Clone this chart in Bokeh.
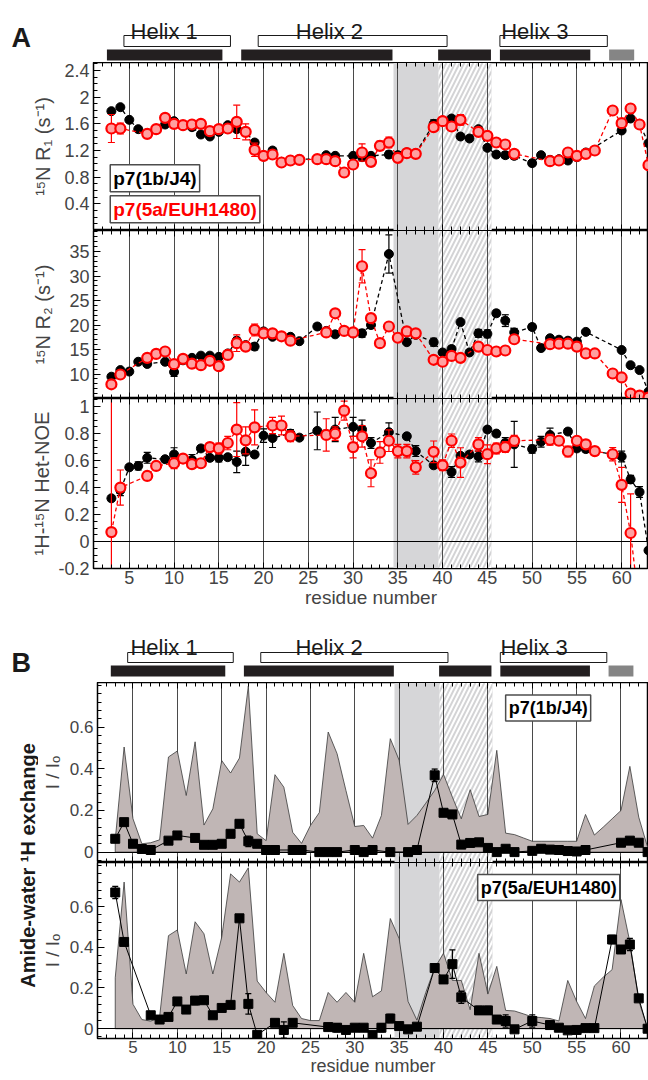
from bokeh.plotting import figure
from bokeh.layouts import column, row
from bokeh.models import Range1d, LinearAxis, FixedTicker, Label
from bokeh.embed import file_html
from bokeh.resources import INLINE
from bokeh.core.properties import value
import math

FONT = "Liberation Sans"

# ---------------- data ----------------
panel_letters = ["A", "B"]
helix_names = ["Helix 1", "Helix 2", "Helix 3"]
helix_label_x_A = [8.9, 27.35, 50.3]
helix_label_x_B = [8.5, 27.1, 50.2]
open_bar_start = [4.4, 19.4, 46.4]
open_bar_end = [16.3, 40.5, 58.4]
solid_bar_start = [2.5, 17.5, 39.5, 46.4]
solid_bar_end = [15.4, 34.4, 45.4, 56.5]
grey_bar_start = [58.6]
grey_bar_end = [61.4]

shade_start = [34.5]
shade_end = [39.5]
hatch_start = [39.5]
hatch_end = [45.5]

grid_res = [5, 10, 15, 20, 25, 30, 35, 40, 45, 50, 55, 60]
x_tick_labels = ["5", "10", "15", "20", "25", "30", "35", "40", "45", "50", "55", "60"]

# R1 (s-1)
r1_b_res = [3,4,5,6,7,9,10,11,12,13,14,15,16,17,18,19,20,21,22,23,24,26,27,28,30,31,32,34,35,36,37,
            39,40,41,42,43,44,45,46,47,48,50,51,52,53,54,55,56,60,61,62,63]
r1_b_val = [1.79,1.85,1.66,1.52,1.46, 1.59,1.64,1.57,1.55,1.44,1.41,1.48,1.58,1.52,1.48,1.32,1.11,1.20,1.03,1.05,1.07,
            1.07,1.13,1.12, 1.12,1.10,1.12, 1.14,1.13,1.17,1.16, 1.60,1.65,1.68,1.41,1.38,1.52,1.24,1.14,1.13,1.12,
            1.01,1.13,1.06,1.07,1.05,1.10,1.17, 1.50,1.68,1.60,1.31]
r1_b_err = [0.02,0.02,0.02,0.02,0.02, 0.02,0.04,0.02,0.02,0.02,0.02,0.02,0.02,0.02,0.02,0.04,0.04,0.03,0.02,0.02,0.02,
            0.02,0.02,0.02, 0.02,0.05,0.02, 0.05,0.02,0.02,0.02, 0.06,0.02,0.04,0.02,0.02,0.04,0.04,0.04,0.05,0.05,
            0.04,0.02,0.02,0.02,0.02,0.02,0.03, 0.02,0.02,0.02,0.02]
r1_r_res = [3,4,7,8,9,10,11,12,13,14,15,16,17,18,19,20,21,22,23,24,26,27,28,29,30,31,32,33,34,35,36,37,
            39,40,41,42,44,45,46,47,48,52,53,54,55,56,57,59,60,61,62,63]
r1_r_val = [1.53,1.53, 1.45,1.52,1.69,1.60,1.58,1.59,1.60,1.49,1.52,1.53,1.63,1.48,1.21,1.12,1.14,1.02,1.05,1.06,
            1.07,1.07,1.04,0.87,0.99,1.17,1.03,1.27,1.32,1.09,1.16,1.15, 1.55,1.64,1.56,1.66,
            1.48,1.42,1.32,1.29,1.15, 1.04,1.05,1.17,1.12,1.15,1.20, 1.80,1.61,1.83,1.59,0.98]
r1_r_err = [0.21,0.08, 0.03,0.03,0.03,0.03,0.03,0.03,0.03,0.03,0.03,0.03,0.25,0.12,0.10,0.03,0.03,0.05,0.04,0.03,
            0.03,0.03,0.05,0.05,0.06,0.13,0.06,0.07,0.08,0.05,0.03,0.03, 0.03,0.03,0.06,0.08,
            0.03,0.06,0.04,0.05,0.05, 0.03,0.03,0.03,0.03,0.03,0.03, 0.04,0.03,0.04,0.03,0.03]

# R2 (s-1)
r2_b_res = [3,4,5,6,7,9,10,11,12,13,14,15,16,17,18,19,20,21,22,23,24,26,27,28,30,31,32,34,36,37,
            39,40,41,42,43,44,45,46,47,48,50,51,52,53,54,55,56,60,61,62,63]
r2_b_val = [9.45,10.8,10.5,12.5,12.05, 12.5,10.4,12.8,13.3,13.75,13.75,13.5,14.2,16.8,15.9,15.6,18.7,17.6,17.7,17.6,16.7,
            19.7,18.8,18.1, 18.3,18.3,20.0, 34.5, 16.5,18.0, 16.5,14.4,15.1,20.6,14.4,18.3,18.2,22.4,20.9,18.5,
            19.6,15.3,17.3,17.0,16.8,16.6,18.6, 14.9,11.8,10.8,6.4]
r2_b_err = [0.35,0.35,0.35,0.35,0.35, 0.35,0.9,0.35,0.35,0.35,0.35,0.35,0.35,0.7,0.35,0.7,0.6,0.35,0.35,0.35,0.35,
            0.6,0.35,0.35, 0.6,0.8,0.7, 3.9, 0.35,0.35, 0.8,0.35,0.6,0.35,0.35,0.8,0.8,0.6,1.2,0.8,
            0.6,0.35,0.35,0.35,0.35,0.35,0.35, 0.35,0.35,0.35,0.35]
r2_r_res = [3,4,7,8,9,10,11,12,13,14,15,16,17,18,19,20,21,22,23,27,28,29,30,31,32,33,34,35,36,37,
            39,40,41,42,44,45,46,47,48,52,53,54,55,56,57,59,60,61,62,63]
r2_r_val = [7.9,9.9, 13.3,14.1,14.6,12.0,13.1,12.1,11.8,12.7,11.6,13.9,16.3,15.6,19.0,18.3,18.3,17.7,16.8,
            18.5,22.4,18.8,18.5,32.0,21.4,16.3,19.7,17.4,18.7,18.3, 12.9,12.5,13.7,13.3,
            15.6,14.9,14.6,14.8,17.1, 16.1,16.2,16.2,15.6,14.2,14.2, 10.1,9.3,6.0,5.6,5.2]
r2_r_err = [0.8,0.4, 0.3,0.3,0.3,0.3,0.3,0.3,0.3,0.3,0.3,0.3,1.7,0.8,1.2,0.3,0.3,0.3,0.3,
            0.3,0.6,0.3,0.3,3.4,0.8,0.5,0.3,0.3,0.3,0.3, 0.3,0.3,0.3,0.3,
            0.3,0.3,0.3,0.3,0.3, 0.3,0.3,0.3,0.3,0.3,0.3, 0.3,0.3,0.3,0.3,0.3]

# 1H-15N heteronuclear NOE
noe_b_res = [3,4,5,6,7,9,10,12,13,14,15,16,17,18,19,20,21,23,24,26,28,30,31,32,34,36,37,39,
             41,42,43,44,45,46,47,48,50,51,52,54,55,56,60,61,62,63]
noe_b_val = [0.32,0.38,0.55,0.56,0.62, 0.61,0.645, 0.605,0.69,0.62,0.62,0.625,0.59,0.665,0.645,0.785,0.767,
             0.80,0.77, 0.82, 0.83, 0.85,0.83,0.73, 0.81, 0.78,0.67, 0.565,
             0.515,0.635,0.645,0.63,0.83,0.80,0.73,0.72, 0.685,0.74,0.79, 0.815,0.69,0.685, 0.63,0.46,0.367,-0.066]
noe_b_err = [0.02,0.04,0.02,0.03,0.04, 0.02,0.05, 0.04,0.02,0.02,0.03,0.02,0.08,0.10,0.02,0.05,0.07,
             0.03,0.02, 0.14, 0.09, 0.07,0.07,0.04, 0.07, 0.02,0.04, 0.02,
             0.04,0.02,0.02,0.04,0.02,0.02,0.04,0.17, 0.03,0.04,0.05, 0.02,0.02,0.02, 0.04,0.03,0.04,0.02]
noe_r_res = [3,4,7,8,10,11,12,13,14,15,16,17,18,19,21,22,23,27,28,29,30,31,32,33,34,35,36,37,
             39,40,41,42,44,45,46,47,48,52,53,54,55,56,57,59,60,61,62]
noe_r_val = [0.07,0.40, 0.486,0.56, 0.58,0.615,0.573,0.58,0.70,0.69,0.73,0.83,0.75,0.846, 0.86,0.86,0.78,
             0.79,0.80,0.97,0.70,0.78,0.506,0.66,0.747,0.67,0.67,0.55,
             0.665,0.565,0.747,0.585, 0.72,0.647,0.69,0.70,0.747, 0.754,0.747,0.667,0.747,0.72,0.67,
             0.647,0.42,0.063,-0.5]
noe_r_err = [1.3,0.13, 0.03,0.03, 0.04,0.03,0.03,0.03,0.03,0.04,0.05,0.2,0.1,0.13, 0.06,0.07,0.04,
             0.12,0.05,0.07,0.08,0.08,0.1,0.08,0.08,0.05,0.05,0.05,
             0.08,0.04,0.05,0.11, 0.05,0.07,0.04,0.04,0.04, 0.04,0.03,0.04,0.03,0.03,0.03,
             0.05,0.13,0.29,0.0]

# amide-water exchange, I/I0
area_res = list(range(3, 64))
area_1b = [0.06,0.505,0.16,0.04,0.045,0.059,0.457,0.486,0.272,0.53,
           0.13,0.208,0.44,0.38,0.452,0.798,0.088,0.055,0.372,0.312,
           0.095,0.042,0.128,0.19,0.577,0.473,0.296,0.123,0.128,0.067,
           0.176,0.545,0.441,0.133,0.176,0.235,0.296,0.373,0.264,0.16,
           0.30,0.171,0.181,0.489,0.091,0.084,0.068,0.052,0.052,0.052,
           0.052,0.052,0.052,0.181,0.082,0.12,0.16,0.2,0.412,0.168,
           0.023]
area_5a = [0.25,0.72,0.12,0.045,0.037,0.058,0.457,0.485,0.269,0.525,
           0.466,0.269,0.45,0.76,0.72,0.79,0.234,0.178,0.13,0.37,
           0.114,0.05,0.04,0.04,0.178,0.13,0.178,0.13,0.37,0.157,
           0.186,0.541,0.442,0.134,0.042,0.178,0.298,0.37,0.237,0.237,
           0.093,0.37,0.17,0.306,0.09,0.087,0.073,0.058,0.055,0.05,
           0.038,0.237,0.134,0.05,0.21,0.253,0.29,0.634,0.426,0.138,
           0.0]

ex_1b_res = [3,4,5,6,7,9,10,12,13,14,15,16,17,18,19,20,21,23,24,26,27,28,30,31,32,34,36,37,
             39,40,41,42,43,44,45,46,47,48,50,51,52,53,54,55,56,60,61,62,63]
ex_1b_val = [0.064,0.144,0.04,0.015,0.01, 0.055,0.08, 0.068,0.035,0.035,0.04,0.088,0.136,0.052,0.04,0.01,0.01,
             0.01,0.01, 0.0,0.0,0.0, 0.01,0.0,0.01, 0.0, 0.0,0.01,
             0.369,0.189,0.181,0.036,0.044,0.047,0.02,0.0,0.016,0.0,
             0.006,0.016,0.012,0.01,0.005,0.003,0.01, 0.045,0.055,0.045,0.0]
ex_1b_err = [0.008,0.008,0.008,0.008,0.008, 0.008,0.008, 0.008,0.008,0.008,0.008,0.008,0.008,0.025,0.008,0.02,0.008,
             0.02,0.008, 0.008,0.008,0.008, 0.008,0.008,0.02, 0.008, 0.008,0.008,
             0.03,0.008,0.008,0.008,0.008,0.008,0.008,0.008,0.008,0.008,
             0.012,0.008,0.008,0.008,0.008,0.015,0.008, 0.008,0.008,0.008,0.008]
ex_5a_res = [3,4,7,8,9,10,11,12,13,14,15,16,17,18,19,21,22,23,27,28,29,30,31,32,33,34,35,36,37,
             39,40,41,42,44,45,46,47,48,50,52,53,54,55,56,57,59,60,61,62,63]
ex_5a_val = [0.669,0.426, 0.066,0.045,0.058,0.134,0.094,0.138,0.14,0.066,0.102,0.117,0.542,0.122,-0.03,
             0.029,-0.006,0.029, 0.008,0.005,-0.006,0.005,0.005,-0.03,0.005,0.05,0.013,-0.003,0.01,
             0.298,0.242,0.317,0.154, 0.09,0.09,0.045,0.038,-0.003, 0.038,
             0.018,0.005,-0.008,-0.006,0.003,0.003, 0.438,0.389,0.413,0.149,0.0]
ex_5a_err = [0.03,0.01, 0.008,0.008,0.008,0.008,0.008,0.02,0.008,0.015,0.008,0.015,0.008,0.05,0.008,
             0.008,0.04,0.008, 0.008,0.02,0.008,0.008,0.008,0.008,0.02,0.02,0.008,0.008,0.008,
             0.008,0.008,0.07,0.03, 0.02,0.02,0.008,0.03,0.008, 0.03,
             0.008,0.008,0.008,0.008,0.008,0.008, 0.02,0.008,0.03,0.008,0.008]

# axis ticks
r1_ticks = [0.4, 0.8, 1.2, 1.6, 2.0, 2.4]
r1_labels = ["0.4", "0.8", "1.2", "1.6", "2", "2.4"]
r2_ticks = [10, 15, 20, 25, 30, 35]
r2_labels = ["10", "15", "20", "25", "30", "35"]
noe_ticks = [-0.2, 0.0, 0.2, 0.4, 0.6, 0.8, 1.0]
noe_labels = ["-0.2", "0", "0.2", "0.4", "0.6", "0.8", "1"]
ex_ticks = [0.0, 0.2, 0.4, 0.6]
ex_labels = ["0", "0.2", "0.4", "0.6"]

# ---------------- layout constants (page is drawn from its top-left corner) ----------------
W = 648
A_X = (1.0, 63.0)
A_LEFT = 93
LAB_W = 38
B_W = W - LAB_W
B_LEFT = 59
B_X = (1.0, 63.1)

minor_res = list(range(1, 64))


def blank_fig(width, height, xr, yr):
    p = figure(width=width, height=height, x_range=Range1d(*xr), y_range=Range1d(*yr),
               output_backend="svg", toolbar_location=None,
               x_axis_location=None, y_axis_location=None,
               min_border_left=0, min_border_right=0, min_border_top=0, min_border_bottom=0)
    p.grid.visible = False
    p.outline_line_color = None
    return p


def base_fig(width, height, xr, yr, left, bottom=0):
    p = figure(width=width, height=height, x_range=Range1d(*xr), y_range=Range1d(*yr),
               output_backend="svg", toolbar_location=None,
               x_axis_location=None, y_axis_location=None,
               min_border_left=left, min_border_right=0, min_border_top=0,
               min_border_bottom=bottom)
    p.grid.visible = False
    p.outline_line_color = "black"
    p.outline_line_width = 1.5
    return p


def x_axes(p, show, tick_px, lab_px):
    tk = FixedTicker(ticks=grid_res, minor_ticks=minor_res)
    for loc in ("below", "above"):
        ax = LinearAxis(ticker=tk, major_tick_in=6, major_tick_out=0, minor_tick_in=4, minor_tick_out=0,
                        axis_line_color="black", major_tick_line_color="black",
                        minor_tick_line_color="black")
        if loc == "below" and show:
            ax.major_label_overrides = dict(zip(grid_res, x_tick_labels))
            ax.major_label_text_font = FONT
            ax.major_label_text_font_size = f"{tick_px}px"
            ax.major_label_standoff = 2
            ax.axis_label = "residue number"
            ax.axis_label_text_font = FONT
            ax.axis_label_text_font_style = "normal"
            ax.axis_label_text_font_size = f"{lab_px}px"
            ax.axis_label_standoff = 0
        else:
            ax.major_label_text_font_size = "0px"
            ax.major_label_text_color = None
            ax.major_label_standoff = 0
        p.add_layout(ax, loc)


def y_axis(p, ticks, labels, minor, title, tick_px, title_px, standoff, bold=False):
    ax = LinearAxis(ticker=FixedTicker(ticks=ticks, minor_ticks=minor),
                    major_label_overrides=dict(zip(ticks, labels)),
                    major_tick_in=7, major_tick_out=0, minor_tick_in=4, minor_tick_out=0,
                    major_label_standoff=4, axis_label=title, axis_label_standoff=standoff,
                    major_label_text_font=FONT, major_label_text_font_size=f"{tick_px}px",
                    axis_label_text_font=FONT, axis_label_text_font_size=f"{title_px}px",
                    axis_label_text_font_style="bold" if bold else "normal")
    p.add_layout(ax, "left")


def backdrop(p):
    p.vstrip(x0=shade_start, x1=shade_end, fill_color="#d6d6d8", line_color=None)
    p.vstrip(x0=hatch_start, x1=hatch_end, fill_color="#d3d3d5", line_color=None,
             hatch_pattern="/", hatch_color="white", hatch_weight=2, hatch_scale=9)
    p.vspan(x=grid_res, line_color="#4a4a4a", line_width=1)


def errbars(p, res, val, err, color, lw=1.2, cap=7):
    lo = [v - e for v, e in zip(val, err)]
    hi = [v + e for v, e in zip(val, err)]
    p.segment(x0=res, y0=lo, x1=res, y1=hi, line_color=color, line_width=lw)
    p.scatter(x=res, y=lo, marker="dash", size=cap, line_color=color, line_width=lw)
    p.scatter(x=res, y=hi, marker="dash", size=cap, line_color=color, line_width=lw)


def series_a(p, bres, bval, berr, rres, rval, rerr):
    p.line(bres, bval, line_color="black", line_dash="4 3", line_width=1.3)
    errbars(p, bres, bval, berr, "black")
    p.scatter(bres, bval, marker="circle", size=9, fill_color="black", line_color="black")
    p.line(rres, rval, line_color="red", line_dash="4 3", line_width=1.3)
    errbars(p, rres, rval, rerr, "red")
    p.scatter(rres, rval, marker="circle", size=10, fill_color="#ffa0a0", line_color="red", line_width=2.2)


def header(xr, width, h, helix_x, y_text, y_white, y_black):
    p = blank_fig(width, h, xr, (0, h))
    p.quad(left=open_bar_start, right=open_bar_end, bottom=y_white[0], top=y_white[1],
           fill_color="white", line_color="#1a1a1a", line_width=1)
    p.quad(left=solid_bar_start, right=solid_bar_end, bottom=y_black[0], top=y_black[1],
           fill_color="#231f20", line_color=None)
    p.quad(left=grey_bar_start, right=grey_bar_end, bottom=y_black[0], top=y_black[1],
           fill_color="#858585", line_color=None)
    p.text(x=helix_x, y=[y_text] * len(helix_x), text=helix_names, text_align="center",
           text_baseline="alphabetic", text_font=value(FONT), text_font_size="22px", text_color="#1a1a1a")
    return p


def letter_fig(width, h, letter, lx, ly):
    p = blank_fig(width, h, (0, width), (0, h))
    p.text(x=[lx], y=[ly], text=[letter], text_align="left", text_baseline="alphabetic",
           text_font=value(FONT), text_font_size="27px", text_font_style="bold", text_color="#1a1a1a")
    return p


def box_label(x, y, text, color, size):
    return Label(x=x, y=y, text=text, text_align="left", text_baseline="top",
                 text_font=FONT, text_font_size=f"{size}px", text_font_style="bold", text_color=color,
                 background_fill_color="white", border_line_color="#4d4d4d", border_line_width=1.5,
                 padding=3)


# ---------------- Panel A ----------------
hA = row(letter_fig(A_LEFT, 62, panel_letters[0], 11, 25),
         header(A_X, W - A_LEFT, 62, helix_label_x_A, 31, (16, 27), (2, 13)))

p1 = base_fig(W, 168, A_X, (0.0, 2.52), A_LEFT)
backdrop(p1)
series_a(p1, r1_b_res, r1_b_val, r1_b_err, r1_r_res, r1_r_val, r1_r_err)
y_axis(p1, r1_ticks, r1_labels, [0.1 * i for i in range(0, 26)], "¹⁵N R₁ (s⁻¹)", 18, 20, 7)
x_axes(p1, False, 18, 19)
p1.add_layout(box_label(2.87, 0.985, "p7(1b/J4)", "black", 19))
p1.add_layout(box_label(2.87, 0.52, "p7(5a/EUH1480)", "red", 19))

p2 = base_fig(W, 168, A_X, (5.0, 39.3), A_LEFT)
backdrop(p2)
series_a(p2, r2_b_res, r2_b_val, r2_b_err, r2_r_res, r2_r_val, r2_r_err)
y_axis(p2, r2_ticks, r2_labels, list(range(5, 40)), "¹⁵N R₂ (s⁻¹)", 18, 20, 12)
x_axes(p2, False, 18, 19)

p3 = base_fig(W, 214, A_X, (-0.2, 1.06), A_LEFT, bottom=44)
backdrop(p3)
p3.hspan(y=[0.0], line_color="black", line_width=1.2)
series_a(p3, noe_b_res, noe_b_val, noe_b_err, noe_r_res, noe_r_val, noe_r_err)
y_axis(p3, noe_ticks, noe_labels, [-0.2 + 0.05 * i for i in range(0, 26)], "¹H-¹⁵N Het-NOE", 18, 20, 2)
x_axes(p3, True, 18, 19)

# ---------------- Panel B ----------------
B_HEAD_LEFT = B_LEFT + LAB_W
hB = row(letter_fig(B_HEAD_LEFT, 70, panel_letters[1], 11, 20),
         header(B_X, W - B_HEAD_LEFT, 70, helix_label_x_B, 35, (20, 30), (6, 17)))

ex_minor = [-0.04 + 0.04 * i for i in range(0, 22)]


def ex_panel(h, yr, area, res, val, err, bottom, show_x, lab):
    p = base_fig(B_W, h, B_X, yr, B_LEFT, bottom=bottom)
    backdrop(p)
    p.patch(x=[area_res[0]] + area_res + [area_res[-1]], y=[0.0] + area + [0.0],
            fill_color="#c0b6b5", line_color="#3a3a3a", line_width=0.8)
    p.hspan(y=[0.0], line_color="black", line_width=1.2)
    p.line(res, val, line_color="black", line_width=1)
    errbars(p, res, val, err, "black", lw=1.3, cap=6)
    p.scatter(res, val, marker="square", size=9, fill_color="black", line_color="black")
    y_axis(p, ex_ticks, ex_labels, ex_minor, "I / Iₒ", 17, 19, 4)
    x_axes(p, show_x, 17, 18)
    p.add_layout(lab)
    return p


e1 = ex_panel(180, (-0.05, 0.815), area_1b, ex_1b_res, ex_1b_val, ex_1b_err, 0, False,
              box_label(47.0, 0.755, "p7(1b/J4)", "black", 18))
e2 = ex_panel(216, (-0.048, 0.816), area_5a, ex_5a_res, ex_5a_val, ex_5a_err, 36, True,
              box_label(43.85, 0.757, "p7(5a/EUH1480)", "black", 18))

labfig = blank_fig(LAB_W, 396, (0, LAB_W), (0, 396))
labfig.add_layout(Label(x=27.5, y=213, text="Amide-water ¹H exchange", angle=math.pi / 2,
                        text_align="center", text_baseline="middle", text_font=FONT,
                        text_font_size="20px", text_font_style="bold", text_color="#1a1a1a"))

layout = column(hA, p1, p2, p3, hB, row(labfig, column(e1, e2)))

open("out.html", "w").write(file_html(layout, INLINE, "p7 dynamics"))
